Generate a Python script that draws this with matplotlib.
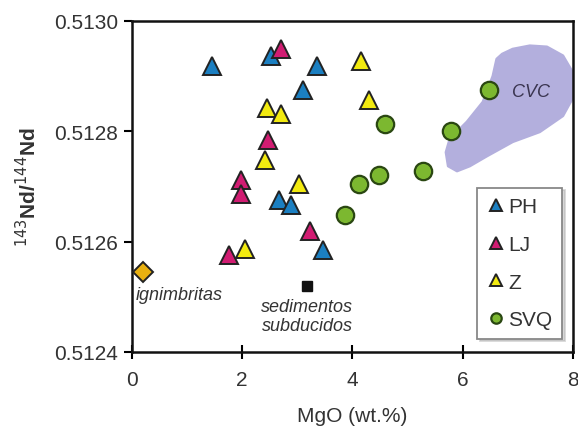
import matplotlib.pyplot as plt
from matplotlib.patches import Polygon

plt.rcParams['font.family'] = ['Liberation Sans', 'DejaVu Sans']

# PH, LJ, Z (triangles) and SVQ (circles): MgO vs 143Nd/144Nd
ph_x = [1.45, 2.52, 3.36, 3.10, 2.67, 2.89, 3.47]
ph_y = [0.512918, 0.512937, 0.512918, 0.512875, 0.512675, 0.512666, 0.512585]
lj_x = [2.70, 2.47, 1.98, 1.98, 1.76, 3.23]
lj_y = [0.512949, 0.512784, 0.512712, 0.512686, 0.512576, 0.512619]
z_x = [2.45, 2.70, 2.41, 2.05, 3.03, 4.16, 4.30]
z_y = [0.512842, 0.512831, 0.512748, 0.512587, 0.512704, 0.512927, 0.512857]
svq_x = [6.48, 5.79, 4.59, 5.28, 4.48, 4.12, 3.87]
svq_y = [0.512875, 0.512800, 0.512813, 0.512728, 0.512721, 0.512704, 0.512648]

ign_x, ign_y = 0.2, 0.512545
sed_x, sed_y = 3.18, 0.512520

# CVC field outline
cvc_x = [6.62, 6.55, 6.37, 6.08, 5.77, 5.70, 5.74, 5.90, 6.13, 6.44, 6.91,
         7.40, 7.82, 7.99, 7.99, 7.82, 7.53, 7.22, 6.91, 6.72]
cvc_y = [0.512931, 0.512900, 0.512853, 0.512817, 0.512786, 0.512762, 0.512737,
         0.512728, 0.512737, 0.512755, 0.512781, 0.512799, 0.512828, 0.512859,
         0.512908, 0.512937, 0.512953, 0.512955, 0.512949, 0.512940]

txt = '#333333'
fig = plt.figure(figsize=(5.78, 4.39), dpi=100)
ax = fig.add_axes([0.228, 0.196, 0.763, 0.754])

ax.add_patch(Polygon(list(zip(cvc_x, cvc_y)), closed=True, fc='#b3afdd',
                     ec='#b3afdd', lw=2, joinstyle='round', zorder=1))
ax.text(6.9, 0.512873, 'CVC', style='italic', fontsize=13, color='#3a3550',
        va='center')

kw = dict(markersize=13.5, markeredgecolor='#222222', markeredgewidth=1.4,
          linestyle='none', zorder=3)
ax.plot(ph_x, ph_y, '^', color='#1b7fc1', label='PH', **kw)
ax.plot(lj_x, lj_y, '^', color='#d11c72', label='LJ', **kw)
ax.plot(z_x, z_y, '^', color='#f2ea10', label='Z', **kw)
ax.plot(svq_x, svq_y, 'o', color='#7cb830', markersize=12.5,
        markeredgecolor='#2a4712', markeredgewidth=1.6, linestyle='none',
        label='SVQ', zorder=3)

ax.plot(ign_x, ign_y, 'D', color='#e8b010', markersize=10,
        markeredgecolor='#222222', markeredgewidth=1.4, zorder=3)
ax.text(0.08, 0.512505, 'ignimbritas', style='italic', fontsize=13, color=txt,
        va='center')
ax.plot(sed_x, sed_y, 's', color='#111111', markersize=7, zorder=3)
ax.text(sed_x, 0.512465, 'sedimentos\nsubducidos', style='italic', fontsize=13,
        color=txt, ha='center', va='center', linespacing=1.2)

ax.set_xlim(0, 8)
ax.set_ylim(0.5124, 0.5130)
ax.set_xticks([0, 2, 4, 6, 8])
ax.set_yticks([0.5124, 0.5126, 0.5128, 0.5130])
ax.set_yticklabels(['0.5124', '0.5126', '0.5128', '0.5130'])
ax.tick_params(axis='y', direction='out', length=6, width=1.5, labelsize=15,
               labelcolor=txt, pad=4)
ax.tick_params(axis='x', direction='inout', length=10, width=1.5,
               labelsize=15, labelcolor=txt, pad=8)
for s in ax.spines.values():
    s.set_linewidth(1.8)
    s.set_color('#111111')

ax.set_xlabel('MgO (wt.%)', fontsize=15, color=txt, labelpad=12)
ax.set_ylabel(r'$^{143}$Nd/$^{144}$Nd', fontsize=15, color=txt, labelpad=10,
              fontweight='bold')

leg = ax.legend(loc='lower right', bbox_to_anchor=(0.975, 0.04),
                borderaxespad=0, fontsize=15, markerscale=0.6,
                handletextpad=0.15, handlelength=0.9, borderpad=0.45,
                labelspacing=0.9, fancybox=False,
                shadow={'color': '#b0b0b0'}, framealpha=1,
                edgecolor='#888888')
leg.get_frame().set_linewidth(1.3)
for t in leg.get_texts():
    t.set_color(txt)

fig.savefig('out.png', dpi=100)
